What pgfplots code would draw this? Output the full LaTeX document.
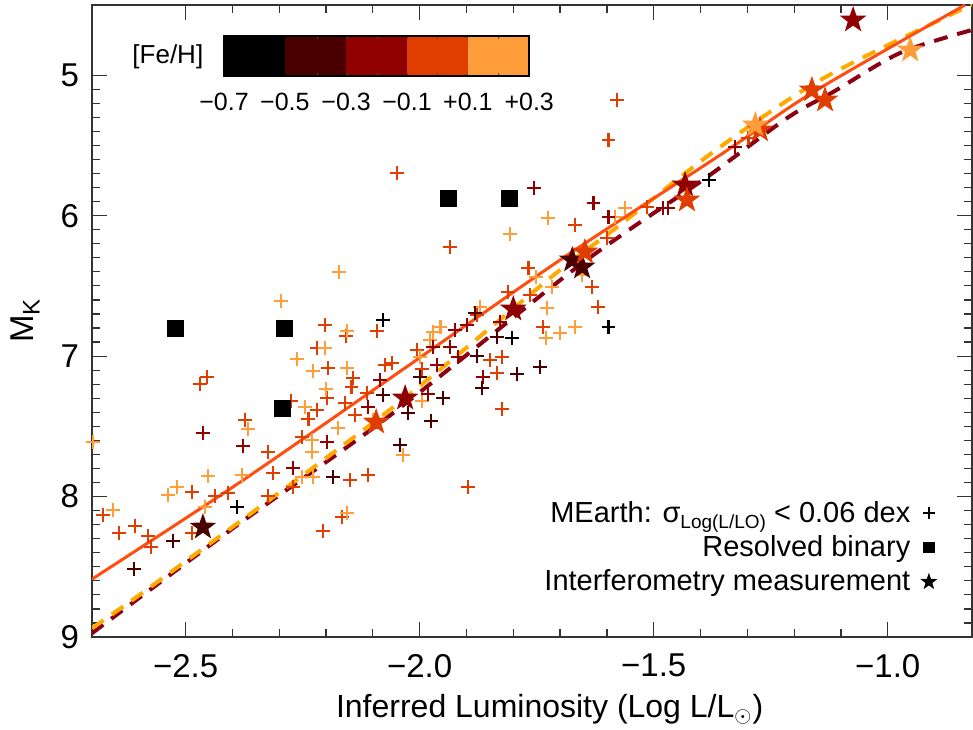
\documentclass[border=0pt]{standalone}
\usepackage{fontspec}
\setmainfont{Liberation Sans}
\usepackage{pgfplots}
\pgfplotsset{compat=1.18}

% [Fe/H] colour bins
\definecolor{feK}{RGB}{0,0,0}
\definecolor{feM}{RGB}{75,0,0}
\definecolor{feR}{RGB}{145,0,0}
\definecolor{feO}{RGB}{224,62,0}
\definecolor{feL}{RGB}{255,157,58}
\definecolor{fitsolid}{RGB}{255,78,16}
\definecolor{fityel}{RGB}{255,170,0}
\definecolor{fitdark}{RGB}{140,0,20}

% filled five point star
\pgfdeclareplotmark{fstar}{%
  \pgfpathmoveto{\pgfpointpolar{90}{\pgfplotmarksize}}%
  \pgfpathlineto{\pgfpointpolar{126}{0.4\pgfplotmarksize}}%
  \pgfpathlineto{\pgfpointpolar{162}{\pgfplotmarksize}}%
  \pgfpathlineto{\pgfpointpolar{198}{0.4\pgfplotmarksize}}%
  \pgfpathlineto{\pgfpointpolar{234}{\pgfplotmarksize}}%
  \pgfpathlineto{\pgfpointpolar{270}{0.4\pgfplotmarksize}}%
  \pgfpathlineto{\pgfpointpolar{306}{\pgfplotmarksize}}%
  \pgfpathlineto{\pgfpointpolar{342}{0.4\pgfplotmarksize}}%
  \pgfpathlineto{\pgfpointpolar{18}{\pgfplotmarksize}}%
  \pgfpathlineto{\pgfpointpolar{54}{0.4\pgfplotmarksize}}%
  \pgfpathclose
  \pgfusepathqfill}

\pgfplotsset{
  pl/.style={only marks, mark=+, mark size=3.4pt, mark options={line width=1.25pt}, forget plot},
  st/.style={only marks, mark=fstar, mark size=7pt, forget plot},
}

\begin{document}
\begin{tikzpicture}
\begin{axis}[
  name=ax,
  scale only axis,
  width=440pt, height=316pt,
  xmin=-2.7, xmax=-0.82,
  ymin=4.5, ymax=9.0,
  y dir=reverse,
  xtick={-2.5,-2.0,-1.5,-1.0},
  xticklabels={−2.5,−2.0,−1.5,−1.0},
  ytick={5,6,7,8,9},
  yticklabels={5,6,7,8,9},
  minor x tick num=4,
  minor y tick num=9,
  major tick length=7.5pt,
  minor tick length=4pt,
  every tick/.style={black!80, line width=0.6pt},
  axis line style={black!80, line width=0.8pt},
  tick label style={font=\fontsize{16.5}{16.5}\selectfont},
  xticklabel style={yshift=-5pt},
  yticklabel style={xshift=-3pt},
  xlabel={Inferred Luminosity (Log L/L$_{\odot}$)},
  ylabel={M\raisebox{-0.35ex}{\fontsize{12}{12}\selectfont K}},
  xlabel style={at={(axis description cs:0.52,-0.115)}, anchor=center, font=\fontsize{16}{16}\selectfont},
  ylabel style={at={(axis description cs:-0.076,0.5)}, anchor=center, rotate=0, font=\fontsize{16.5}{16.5}\selectfont},
  legend style={at={(rel axis cs:0.968,0.055)}, anchor=south east, draw=none, fill=none,
    font=\fontsize{14.5}{14.5}\selectfont, row sep=1.2pt, column sep=3pt},
  legend cell align=right,
  legend plot pos=right,
]

% MEarth stars, colour by [Fe/H]
\addplot[pl, color=feO] coordinates {
(-1.578,5.177) (-1.597,5.462) (-2.048,5.697) (-1.935,6.224) (-1.668,6.067)
(-1.514,5.939) (-1.600,6.160) (-1.632,6.509) (-1.619,6.651) (-1.298,5.447)
(-1.768,6.373) (-1.811,6.544) (-1.764,6.566) (-1.736,6.793) (-1.877,6.708)
(-2.006,6.957) (-1.850,7.029) (-1.824,7.007) (-1.995,7.093) (-1.835,7.121)
(-1.824,7.378) (-1.897,7.933) (-2.202,6.779) (-2.157,6.858) (-2.091,6.822)
(-2.219,6.943) (-2.196,7.086) (-2.142,7.157) (-2.146,7.221) (-2.198,7.299)
(-2.159,7.335) (-2.074,7.064) (-2.059,7.050) (-2.454,7.150) (-2.469,7.199)
(-2.275,7.320) (-2.219,7.385) (-2.112,7.264) (-2.138,7.420) (-2.091,7.470)
(-2.373,7.456) (-2.238,7.449) (-2.251,7.577) (-2.324,7.684) (-2.313,7.833)
(-2.149,7.883) (-2.110,7.848) (-2.271,7.933) (-2.324,7.997) (-2.166,8.147)
(-2.206,8.246) (-2.486,7.969) (-2.437,7.997) (-2.409,7.976) (-2.676,8.133)
(-2.642,8.261) (-2.608,8.211) (-2.580,8.282) (-2.574,8.360) (-2.486,8.261)
};
\addplot[pl, color=feL] coordinates {
(-1.726,6.017) (-1.807,6.131) (-1.561,5.946) (-1.583,6.010) (-2.172,6.402)
(-2.296,6.608) (-2.155,6.822) (-2.202,6.943) (-2.262,7.021) (-2.228,7.107)
(-2.155,7.086) (-2.200,7.235) (-2.245,7.363) (-1.751,6.437) (-1.717,6.509)
(-1.728,6.658) (-1.700,6.836) (-1.730,6.872) (-1.668,6.793) (-1.653,6.423)
(-1.871,6.651) (-1.956,6.793) (-1.971,6.829) (-1.978,6.886) (-1.999,7.007)
(-1.995,7.320) (-2.036,7.705) (-2.367,7.520) (-2.230,7.598) (-2.174,7.513)
(-2.230,7.684) (-2.380,7.848) (-2.251,7.862) (-2.228,7.862) (-2.155,8.118)
(-2.452,7.855) (-2.538,7.990) (-2.518,7.933) (-2.459,8.076) (-2.655,8.097)
(-2.698,7.613) (-2.100,7.456)
};
\addplot[pl, color=feR] coordinates {
(-1.756,5.803) (-1.629,5.910) (-1.597,6.010) (-1.480,5.946) (-1.469,5.946)
(-1.326,5.511) (-1.828,6.758) (-1.924,6.815) (-1.899,6.779) (-1.935,6.936)
(-1.971,6.936) (-1.918,7.007) (-1.963,7.064) (-1.865,7.150) (-1.982,7.271)
(-2.110,7.363) (-2.085,7.171) (-2.198,7.613) (-2.377,7.641) (-2.271,7.798)
(-2.463,7.548)
};
\addplot[pl, color=feM] coordinates {
(-2.078,7.278) (-1.835,6.865) (-1.877,7.000) (-1.999,7.150) (-1.792,7.128)
(-1.743,7.078) (-1.950,7.299) (-2.025,7.406) (-1.976,7.463) (-1.867,7.228)
(-2.042,7.634) (-2.185,7.862) (-2.527,8.318) (-2.610,8.517) (-1.882,6.694)
};
\addplot[pl, color=feK] coordinates {
(-2.078,6.744) (-1.803,6.872) (-1.597,6.793) (-1.382,5.746) (-2.390,8.076)
};

% relations
\addplot[color=fitdark, line width=2pt, dash pattern=on 7pt off 5pt, smooth, forget plot] coordinates {
(-2.700,8.973) (-2.390,8.204) (-2.068,7.434) (-1.694,6.444) (-1.550,6.095)
(-1.386,5.725) (-1.215,5.305) (-1.117,5.120) (-0.974,4.842) (-0.820,4.678)
};
\addplot[color=fityel, line width=2pt, dash pattern=on 7pt off 5pt, smooth, forget plot] coordinates {
(-2.700,8.937) (-2.555,8.595) (-2.070,7.399) (-1.711,6.416) (-1.578,6.081)
(-1.373,5.547) (-1.144,5.034) (-0.841,4.529) (-0.820,4.500)
};
\addplot[color=fitsolid, line width=1.5pt, smooth, forget plot] coordinates {
(-2.700,8.588) (-2.390,7.912) (-2.038,7.100) (-1.694,6.302) (-1.358,5.568)
(-1.159,5.120) (-0.835,4.500)
};

% interferometry
\addplot[st, color=feM] coordinates {(-2.463,8.218) (-1.674,6.316) (-1.653,6.366)};
\addplot[st, color=feR] coordinates {(-2.031,7.299) (-1.800,6.665) (-1.433,5.782) (-1.074,4.607)};
\addplot[st, color=feO] coordinates {(-2.093,7.470) (-1.647,6.259) (-1.429,5.889) (-1.162,5.105) (-1.134,5.177) (-1.273,5.390)};
\addplot[st, color=feL] coordinates {(-1.283,5.355) (-0.952,4.821)};

% resolved binaries
\addplot[only marks, mark=square*, mark size=4pt, color=black, forget plot] coordinates {
(-2.521,6.801) (-2.290,6.801) (-2.294,7.370) (-1.939,5.875) (-1.809,5.875)
};

% colour bar
\fill[feK] (axis cs:-2.418,4.721) rectangle (axis cs:-2.288,5.006);
\fill[feM] (axis cs:-2.288,4.721) rectangle (axis cs:-2.157,5.006);
\fill[feR] (axis cs:-2.157,4.721) rectangle (axis cs:-2.027,5.006);
\fill[feO] (axis cs:-2.027,4.721) rectangle (axis cs:-1.897,5.006);
\fill[feL] (axis cs:-1.897,4.721) rectangle (axis cs:-1.766,5.006);
\pgfplotsinvokeforeach{-2.219,-2.155,-2.091,-2.025,-1.961,-1.897,-1.832}{
  \draw[black!70, line width=0.5pt] (axis cs:#1,4.721) -- (axis cs:#1,4.745);
  \draw[black!70, line width=0.5pt] (axis cs:#1,5.006) -- (axis cs:#1,4.982);
}
\draw[black, line width=0.8pt] (axis cs:-2.418,4.721) rectangle (axis cs:-1.766,5.006);
\node[font=\fontsize{13}{13}\selectfont] at (axis cs:-2.538,4.87) {[Fe/H]};
\node[font=\fontsize{12.5}{12.5}\selectfont] at (axis cs:-2.418,5.19) {−0.7};
\node[font=\fontsize{12.5}{12.5}\selectfont] at (axis cs:-2.288,5.19) {−0.5};
\node[font=\fontsize{12.5}{12.5}\selectfont] at (axis cs:-2.157,5.19) {−0.3};
\node[font=\fontsize{12.5}{12.5}\selectfont] at (axis cs:-2.027,5.19) {−0.1};
\node[font=\fontsize{12.5}{12.5}\selectfont] at (axis cs:-1.897,5.19) {+0.1};
\node[font=\fontsize{12.5}{12.5}\selectfont] at (axis cs:-1.766,5.19) {+0.3};

% legend
\addlegendimage{only marks, mark=+, mark size=3pt, mark options={line width=1pt}, black}
\addlegendentry{MEarth: σ\raisebox{-0.4ex}{\fontsize{9.5}{9.5}\selectfont Log(L/LO)} < 0.06 dex}
\addlegendimage{only marks, mark=square*, mark size=2.6pt, black}
\addlegendentry{Resolved binary}
\addlegendimage{only marks, mark=fstar, mark size=4.5pt, black}
\addlegendentry{Interferometry measurement}
\end{axis}
\pgfresetboundingbox
\useasboundingbox ([xshift=-46pt,yshift=-46.5pt]ax.south west) rectangle ([xshift=0.5pt,yshift=2.5pt]ax.north east);
\end{tikzpicture}
\end{document}
